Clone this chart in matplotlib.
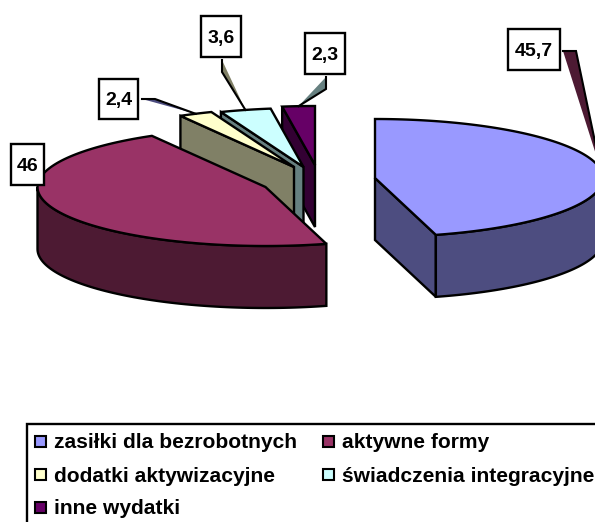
import numpy as np
import matplotlib
matplotlib.use("Agg")
import matplotlib.pyplot as plt
from matplotlib.patches import Polygon, Rectangle

plt.rcParams["font.family"] = ["Liberation Sans", "DejaVu Sans"]

# data, in chart order (clockwise from the top)
categories = [
    "zasiłki dla bezrobotnych",
    "aktywne formy",
    "dodatki aktywizacyjne",
    "świadczenia integracyjne",
    "inne wydatki",
]
values = [45.7, 46, 2.4, 3.6, 2.3]

# colours
top_colors = ["#9999FF", "#993366", "#FFFFCC", "#CCFFFF", "#660066"]
side_colors = ["#4D4D80", "#4D1A33", "#808066", "#668080", "#330033"]
leader_colors = ["#4D1A33", None, "#4D4D80", "#808066", "#668080"]

# layout, in image pixels
RX, RY, DEPTH = 228, 59, 62
apexes = [(375, 178), (265.5, 187), (294, 167), (303.5, 167), (315, 165)]
label_boxes = [(508, 29, 52, 41), (11, 144, 33, 41), (99, 79, 39, 40), (201, 16, 40, 41), (305, 33, 40, 41)]
leader_roots = [
    [(563, 51), (576, 51)],
    None,
    [(142, 99), (155, 99)],
    [(222, 60), (222, 72)],
    [(326, 77), (326, 89)],
]
legend_cells = [(35, 441), (323, 441), (35, 474), (323, 474), (35, 507)]

fig = plt.figure(figsize=(5.95, 5.22), dpi=100)
ax = fig.add_axes([0, 0, 1, 1])
ax.set_xlim(0, 595)
ax.set_ylim(522, 0)
ax.axis("off")

edges = np.concatenate([[0], np.cumsum(values)]) / np.sum(values) * 360


def rim(apex, ang):
    a = np.radians(ang)
    return np.column_stack([apex[0] + RX * np.sin(a), apex[1] - RY * np.cos(a)])


def poly(pts, color, z, lw=1.7):
    ax.add_patch(Polygon(pts, closed=True, facecolor=color, edgecolor="black",
                         linewidth=lw, joinstyle="miter", zorder=z))


def draw_slice(i, z):
    apex = apexes[i]
    start, end = edges[i], edges[i + 1]
    drop = np.array([0, DEPTH])
    # radial faces that look towards the viewer
    for ang, visible in ((end, end < 180), (start, start > 180)):
        if visible:
            p = rim(apex, [ang])[0]
            poly([apex, p, p + drop, np.array(apex) + drop], side_colors[i], z)
    # outer wall, only on the front half
    a0, a1 = max(start, 90), min(end, 270)
    if a0 < a1:
        arc = rim(apex, np.linspace(a0, a1, 80))
        poly(np.vstack([arc, (arc + drop)[::-1]]), side_colors[i], z)
    # top surface
    arc = rim(apex, np.linspace(start, end, 120))
    poly(np.vstack([[apex], arc]), top_colors[i], z + 0.1)


# back to front
for z, i in enumerate([4, 3, 2, 0, 1]):
    draw_slice(i, z + 1)

# data labels with their leaders
for i, v in enumerate(values):
    x, y, w, h = label_boxes[i]
    if leader_roots[i] is not None:
        tip = rim(apexes[i], [(edges[i] + edges[i + 1]) / 2])[0]
        pts = leader_roots[i] + [tuple(tip)]
        ax.add_patch(Polygon(pts, closed=True, facecolor=leader_colors[i], edgecolor="none", zorder=10))
        ax.plot(*zip(*pts), color="black", linewidth=1.5, solid_joinstyle="miter", zorder=10)
    ax.add_patch(Rectangle((x, y), w, h, facecolor="white", edgecolor="black", linewidth=1.7, zorder=11))
    ax.text(x + w / 2, y + h / 2, f"{v:g}".replace(".", ","), ha="center", va="center_baseline",
            fontsize=14, fontweight="bold", color="black", zorder=12)

# legend, the frame runs off the image on the right and at the bottom
ax.add_patch(Rectangle((27, 424), 600, 120, facecolor="white", edgecolor="black", linewidth=1.7, zorder=1))
for i, name in enumerate(categories):
    x, y = legend_cells[i]
    ax.add_patch(Rectangle((x, y - 5.5), 11, 11, facecolor=top_colors[i], edgecolor="black", linewidth=1.5, zorder=2))
    ax.text(x + 19, y, name, ha="left", va="center_baseline", fontsize=15.1, fontweight="bold", color="black", zorder=2)

fig.savefig("out.png", dpi=100)
